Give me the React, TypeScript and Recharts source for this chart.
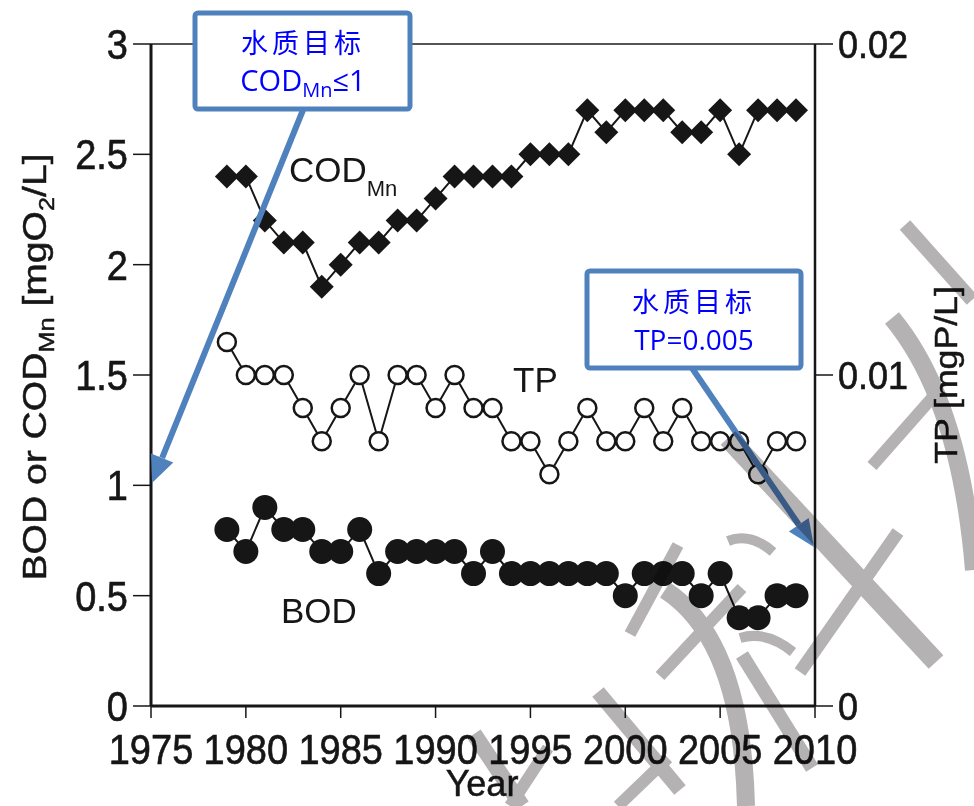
import React from 'react';
import { ComposedChart, Line, XAxis, YAxis, ReferenceLine } from 'recharts';

// yearly means
const years = [
  1979, 1980, 1981, 1982, 1983, 1984, 1985, 1986, 1987, 1988, 1989, 1990, 1991, 1992, 1993, 1994,
  1995, 1996, 1997, 1998, 1999, 2000, 2001, 2002, 2003, 2004, 2005, 2006, 2007, 2008, 2009,
];
const codMn = [
  2.4, 2.4, 2.2, 2.1, 2.1, 1.9, 2.0, 2.1, 2.1, 2.2, 2.2, 2.3, 2.4, 2.4, 2.4, 2.4,
  2.5, 2.5, 2.5, 2.7, 2.6, 2.7, 2.7, 2.7, 2.6, 2.6, 2.7, 2.5, 2.7, 2.7, 2.7,
];
const tp = [
  0.011, 0.01, 0.01, 0.01, 0.009, 0.008, 0.009, 0.01, 0.008, 0.01, 0.01, 0.009, 0.01, 0.009, 0.009, 0.008,
  0.008, 0.007, 0.008, 0.009, 0.008, 0.008, 0.009, 0.008, 0.009, 0.008, 0.008, 0.008, 0.007, 0.008, 0.008,
];
const bod = [
  0.8, 0.7, 0.9, 0.8, 0.8, 0.7, 0.7, 0.8, 0.6, 0.7, 0.7, 0.7, 0.7, 0.6, 0.7, 0.6,
  0.6, 0.6, 0.6, 0.6, 0.6, 0.5, 0.6, 0.6, 0.6, 0.5, 0.6, 0.4, 0.4, 0.5, 0.5,
];

const yearTicks = [1975, 1980, 1985, 1990, 1995, 2000, 2005, 2010];
const leftTicks = [0, 0.5, 1, 1.5, 2, 2.5, 3];
const rightTicks = [0, 0.01, 0.02];

const data = years.map((year, i) => ({ year, cod: codMn[i], tp: tp[i], bod: bod[i] }));

const FONT = '"Liberation Sans", Arial, Helvetica, sans-serif';
const CJK = '"Noto Sans CJK SC", "Noto Sans", sans-serif';
const LATIN_BOX = '"Open Sans", "Noto Sans", sans-serif';
const INK = '#161616';
const CALLOUT = '#4f81bd';
const BLUE = '#0000ff';
const MARK = '#b4b2b2';

const Diamond = (props: any) => {
  const { cx, cy, index } = props;
  if (cx == null || cy == null) return null;
  const r = 12;
  return (
    <polygon
      key={`cod-${index}`}
      points={`${cx},${cy - r} ${cx + r},${cy} ${cx},${cy + r} ${cx - r},${cy}`}
      fill={INK}
    />
  );
};

const FilledDot = (props: any) => {
  const { cx, cy, index } = props;
  if (cx == null || cy == null) return null;
  return <circle key={`bod-${index}`} cx={cx} cy={cy} r={12.5} fill={INK} />;
};

const OpenDot = (props: any) => {
  const { cx, cy, index } = props;
  if (cx == null || cy == null) return null;
  return <circle key={`tp-${index}`} cx={cx} cy={cy} r={9} fill='#fff' stroke={INK} strokeWidth={2.5} />;
};

// tick labels, slightly stretched and thickened like the scanned figure
const XTick = ({ x, y, payload }: any) => (
  <text
    transform={`translate(${x},${y}) scale(1,1.1)`}
    textAnchor='middle'
    dy='0.71em'
    fontSize={38}
    fontFamily={FONT}
    fill={INK}
    stroke={INK}
    strokeWidth={0.6}
  >
    {payload.value}
  </text>
);

const LeftTick = ({ x, y, payload }: any) => (
  <text
    transform={`translate(${x},${y}) scale(1,1.1)`}
    textAnchor='end'
    dy='0.355em'
    fontSize={38}
    fontFamily={FONT}
    fill={INK}
    stroke={INK}
    strokeWidth={0.6}
  >
    {payload.value}
  </text>
);

const RightTick = ({ x, y, payload }: any) => (
  <text
    transform={`translate(${x},${y}) scale(1,1.1)`}
    textAnchor='start'
    dy='0.355em'
    fontSize={36}
    fontFamily={FONT}
    fill={INK}
    stroke={INK}
    strokeWidth={0.6}
  >
    {payload.value}
  </text>
);

const Arrow = ({ x1, y1, x2, y2 }: { x1: number; y1: number; x2: number; y2: number }) => {
  const len = Math.hypot(x2 - x1, y2 - y1);
  const ux = (x2 - x1) / len;
  const uy = (y2 - y1) / len;
  const head = 27;
  const half = 12;
  const bx = x2 - ux * head;
  const by = y2 - uy * head;
  const pts = `${x2},${y2} ${bx - uy * half},${by + ux * half} ${bx + uy * half},${by - ux * half}`;
  return (
    <g>
      <line x1={x1} y1={y1} x2={bx} y2={by} stroke={CALLOUT} strokeWidth={6} />
      <polygon points={pts} fill={CALLOUT} />
    </g>
  );
};

// rough copy of the grey watermark strokes
const watermark = [
  { d: 'M 728 438 L 936 662', w: 20 },
  { d: 'M 800 672 L 898 532', w: 13 },
  { d: 'M 872 466 L 932 398', w: 12 },
  { d: 'M 892 318 Q 960 400 974 570', w: 18 },
  { d: 'M 905 225 L 972 300', w: 14 },
  { d: 'M 665 590 Q 742 640 746 806', w: 18 },
  { d: 'M 742 655 L 812 768', w: 14 },
  { d: 'M 630 634 L 678 545', w: 12 },
  { d: 'M 660 676 L 742 588', w: 12 },
  { d: 'M 728 541 Q 750 532 773 552', w: 10 },
  { d: 'M 740 638 Q 766 630 793 652', w: 10 },
  { d: 'M 598 692 L 680 790', w: 15 },
  { d: 'M 618 806 L 668 758', w: 12 },
  { d: 'M 474 734 L 522 806', w: 16 },
  { d: 'M 510 806 L 548 748', w: 12 },
];

const Overlay = () => (
  <svg
    width={974}
    height={806}
    style={{ position: 'absolute', left: 0, top: 0, pointerEvents: 'none' }}
  >
    {/* axis titles */}
    <text
      transform='translate(46,367) rotate(-90) scale(1.15,1)'
      textAnchor='middle'
      fontSize={34}
      fontFamily={FONT}
      fill={INK}
      stroke={INK}
      strokeWidth={0.5}
    >
      BOD or COD<tspan fontSize={22} dy={8}>Mn</tspan>
      <tspan dy={-8}> [mgO</tspan>
      <tspan fontSize={22} dy={8}>2</tspan>
      <tspan dy={-8}>/L]</tspan>
    </text>
    <text
      transform='translate(957,375) rotate(-90) scale(1.15,1)'
      textAnchor='middle'
      fontSize={31}
      fontFamily={FONT}
      fill={INK}
      stroke={INK}
      strokeWidth={0.5}
    >
      TP [mgP/L]
    </text>
    <text
      x={482}
      y={796}
      textAnchor='middle'
      fontSize={36}
      fontFamily={FONT}
      fill={INK}
      stroke={INK}
      strokeWidth={0.5}
    >
      Year
    </text>

    {/* series labels */}
    <text x={289} y={182} fontSize={35} fontFamily={FONT} fill={INK}>
      COD<tspan fontSize={22} dy={14}>Mn</tspan>
    </text>
    <text x={513} y={392} fontSize={35} fontFamily={FONT} fill={INK}>
      TP
    </text>
    <text x={281} y={623} fontSize={35} fontFamily={FONT} fill={INK}>
      BOD
    </text>

    {/* callouts */}
    <Arrow x1={303} y1={110} x2={152} y2={483} />
    <rect x={195} y={13} width={215} height={96} rx={3} fill='#fff' stroke={CALLOUT} strokeWidth={5} />
    <text x={303} y={53} textAnchor='middle' fontSize={27} letterSpacing={4} fontFamily={CJK} fill={BLUE}>
      水质目标
    </text>
    <text x={303} y={91} textAnchor='middle' fontSize={29} fontFamily={LATIN_BOX} fill={BLUE}>
      COD<tspan fontSize={20} dy={6}>Mn</tspan>
      <tspan dy={-6}>≤1</tspan>
    </text>

    <Arrow x1={692} y1={368} x2={814} y2={547} />
    <rect x={587} y={271} width={214} height={97} rx={3} fill='#fff' stroke={CALLOUT} strokeWidth={5} />
    <text x={694} y={312} textAnchor='middle' fontSize={27} letterSpacing={4} fontFamily={CJK} fill={BLUE}>
      水质目标
    </text>
    <text x={694} y={350} textAnchor='middle' fontSize={28} fontFamily={LATIN_BOX} fill={BLUE}>
      TP=0.005
    </text>

    {/* watermark */}
    <g style={{ mixBlendMode: 'multiply' }}>
      {watermark.map((s, i) => (
        <path key={`wm-${i}`} d={s.d} stroke={MARK} strokeWidth={s.w} fill='none' />
      ))}
    </g>
  </svg>
);

const App = () => {
  return (
    <div style={{ position: 'absolute', left: 0, top: 0, width: 974, height: 806, background: '#fff' }}>
      <ComposedChart width={974} height={806} data={data} margin={{ top: 44, right: 0, bottom: 0, left: 0 }}>
        <XAxis
          dataKey='year'
          type='number'
          domain={[1975, 2010]}
          ticks={yearTicks}
          height={100}
          tickSize={12}
          tickMargin={16}
          tick={<XTick />}
          axisLine={{ stroke: INK, strokeWidth: 3 }}
          tickLine={{ stroke: INK, strokeWidth: 1.5 }}
        />
        <YAxis
          yAxisId='left'
          domain={[0, 3]}
          ticks={leftTicks}
          width={151}
          tickSize={18}
          tickMargin={5}
          tick={<LeftTick />}
          axisLine={{ stroke: INK, strokeWidth: 3 }}
          tickLine={{ stroke: INK, strokeWidth: 1.5 }}
        />
        <YAxis
          yAxisId='right'
          orientation='right'
          domain={[0, 0.02]}
          ticks={rightTicks}
          width={159}
          tickSize={18}
          tickMargin={5}
          tick={<RightTick />}
          axisLine={{ stroke: INK, strokeWidth: 2.5 }}
          tickLine={{ stroke: INK, strokeWidth: 1.5 }}
        />

        {/* top frame */}
        <ReferenceLine yAxisId='left' y={3} stroke='#555' strokeWidth={2} />

        <Line
          yAxisId='left'
          dataKey='cod'
          stroke={INK}
          strokeWidth={2}
          dot={Diamond}
          activeDot={false}
          isAnimationActive={false}
        />
        <Line
          yAxisId='right'
          dataKey='tp'
          stroke={INK}
          strokeWidth={2}
          dot={OpenDot}
          activeDot={false}
          isAnimationActive={false}
        />
        <Line
          yAxisId='left'
          dataKey='bod'
          stroke={INK}
          strokeWidth={2}
          dot={FilledDot}
          activeDot={false}
          isAnimationActive={false}
        />
      </ComposedChart>
      <Overlay />
    </div>
  );
};

export default App;
